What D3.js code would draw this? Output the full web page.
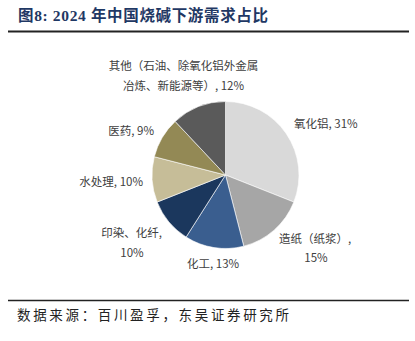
<!DOCTYPE html>
<html><head><meta charset="utf-8">
<script src="https://cdn.jsdelivr.net/npm/d3@7/dist/d3.min.js"></script>
<style>html,body{margin:0;padding:0;background:#fff;}svg{display:block;}</style>
</head><body>
<svg id="chart" width="415" height="341"></svg>
<script>
const categories = ["氧化铝", "造纸（纸浆）", "化工", "印染、化纤", "水处理", "医药", "其他（石油、除氧化铝外金属冶炼、新能源等）"];
const values = [31, 15, 13, 10, 10, 9, 12];
const colors = ["#d9d9d9", "#a6a6a6", "#3a5e8f", "#1b375d", "#c6bd98", "#938955", "#5a5a5a"];
const labelLines = [
  ["氧化铝, 31%"],
  ["造纸（纸浆）,", "15%"],
  ["化工, 13%"],
  ["印染、化纤,", "10%"],
  ["水处理, 10%"],
  ["医药, 9%"],
  ["其他（石油、除氧化铝外金属", "冶炼、新能源等）, 12%"]
];
const title = "图8:  2024 年中国烧碱下游需求占比";
const source = "数据来源：百川盈孚，东吴证券研究所";

const svg = d3.select("#chart");
const cx = 225.5, cy = 175, R = 73.5;

// header
svg.append("text").attr("x", 18).attr("y", 21)
  .attr("font-family", "'Liberation Serif','Noto Sans CJK SC',serif")
  .attr("font-weight", "bold").attr("font-size", 15.5).attr("fill", "#1f3864")
  .attr("textLength", 250).attr("lengthAdjust", "spacing")
  .text(title);
svg.append("line").attr("x1", 8).attr("x2", 409).attr("y1", 31.5).attr("y2", 31.5)
  .attr("stroke", "#222").attr("stroke-width", 2);
svg.append("line").attr("x1", 8).attr("x2", 409).attr("y1", 300.5).attr("y2", 300.5)
  .attr("stroke", "#222").attr("stroke-width", 1.5);
svg.append("text").attr("x", 17).attr("y", 320)
  .attr("font-family", "'Noto Sans CJK SC',sans-serif")
  .attr("font-size", 13.5).attr("fill", "#222")
  .attr("textLength", 272).attr("lengthAdjust", "spacing")
  .text(source);

// pie
const data = categories.map((c, i) => ({ cat: c, value: values[i], color: colors[i], lines: labelLines[i] }));
const pie = d3.pie().value(d => d.value).sort(null);
const arc = d3.arc().innerRadius(0).outerRadius(R);
const arcs = pie(data);
const g = svg.append("g").attr("transform", `translate(${cx},${cy})`);
g.selectAll("path").data(arcs).join("path")
  .attr("d", arc).attr("fill", d => d.data.color)
  .attr("stroke", "#fff").attr("stroke-width", 0.6);

// label layout (relative to pie centre): per line [x, y, anchor]
const labelPos = [
  [[68.5, -52, "start"]],
  [[53.5, 63, "start"], [90.5, 82, "middle"]],
  [[-38.5, 88, "start"]],
  [[-94, 57, "middle"], [-93.5, 77, "middle"]],
  [[-82.5, 6, "end"]],
  [[-71.5, -45, "end"]],
  [[-42, -110, "middle"], [-42, -90, "middle"]]
];
arcs.forEach((a, i) => {
  a.data.lines.forEach((ln, k) => {
    const [x, y, anchor] = labelPos[i][k];
    g.append("text")
      .attr("x", x).attr("y", y)
      .attr("dominant-baseline", "central")
      .attr("text-anchor", anchor)
      .attr("font-family", "'Noto Sans CJK SC',sans-serif")
      .attr("font-size", 11.5).attr("fill", "#404040")
      .text(ln);
  });
});
</script>
</body></html>
